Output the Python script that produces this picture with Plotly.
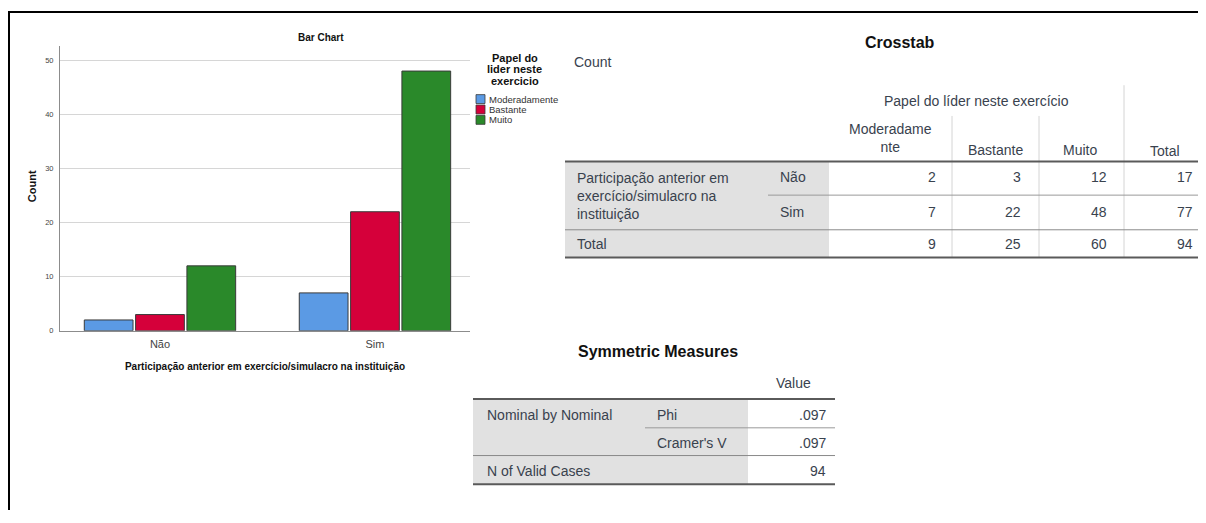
import plotly.graph_objects as go

# ---------------- data ----------------
categories = ["Não", "Sim"]
series_names = ["Moderadamente", "Bastante", "Muito"]
moderadamente = [2, 7]
bastante = [3, 22]
muito = [12, 48]
series_values = [moderadamente, bastante, muito]
bar_colors = ["#5b9ae4", "#d5003a", "#2a892a"]

row_var_label = ["Participação anterior em", "exercício/simulacro na", "instituição"]
col_var_label = "Papel do líder neste exercício"
col_headers = ["Moderadame<br>nte", "Bastante", "Muito", "Total"]
legend_title_lines = ["Papel do", "lider neste", "exercicio"]
x_title = "Participação anterior em exercício/simulacro na instituição"
y_title = "Count"

sym_labels = ["Phi", "Cramer's V"]
sym_values = [".097", ".097"]
n_valid = 94

# the page body has an 8px margin, so the figure is drawn smaller and offset
OFF = 8
W, H = 1206 - OFF, 523 - 2 * OFF
FONT = "Liberation Sans, Arial, sans-serif"
TXT = "#39424e"


def px(x):
    return (x - OFF) / W


def py(y):
    return 1 - (y - OFF) / H


fig = go.Figure()
for name, vals, col in zip(series_names, series_values, bar_colors):
    fig.add_trace(go.Bar(
        x=categories, y=vals, name=name,
        marker=dict(color=col, line=dict(color="#3a3a3a", width=1)),
        showlegend=False,
    ))

shapes = []
annotations = []


def text(x, y, s, size=14, color=TXT, xanchor="left", bold=False, angle=0):
    if bold:
        s = "<b>" + s + "</b>"
    annotations.append(dict(
        x=px(x), y=py(y), xref="paper", yref="paper", text=s, showarrow=False,
        xanchor=xanchor, yanchor="middle", textangle=angle,
        font=dict(family=FONT, size=size, color=color),
    ))


def rect(x0, y0, x1, y1, fill, line=None):
    shapes.append(dict(type="rect", xref="paper", yref="paper",
                       x0=px(x0), x1=px(x1), y0=py(y1), y1=py(y0),
                       fillcolor=fill, line=dict(width=0) if line is None else line,
                       layer="below"))


def hline(x0, x1, y, color, width=1):
    shapes.append(dict(type="line", xref="paper", yref="paper",
                       x0=px(x0), x1=px(x1), y0=py(y), y1=py(y),
                       line=dict(color=color, width=width)))


def vline(x, y0, y1, color, width=1):
    shapes.append(dict(type="line", xref="paper", yref="paper",
                       x0=px(x), x1=px(x), y0=py(y0), y1=py(y1),
                       line=dict(color=color, width=width)))


# outer border (top & left)
hline(8, 1206, 12, "#000000", 2)
vline(9, 12, OFF + H, "#000000", 2)

# ---------- bar chart texts ----------
text(321, 38, "Bar Chart", size=10, color="#111111", xanchor="center", bold=True)
text(32, 188, y_title, size=11, color="#111111", xanchor="center", bold=True, angle=-90)
for i, ln in enumerate(legend_title_lines):
    text(515, 58 + 12 * i, ln, size=11, color="#111111", xanchor="center", bold=True)
for i, (name, col) in enumerate(zip(series_names, bar_colors)):
    yc = 100 + 10.5 * i
    rect(476, yc - 4.5, 485, yc + 4.5, col, line=dict(color="#3a3a3a", width=0.8))
    text(487, yc, name, size=9.5, color="#333333")

# ---------- Crosstab ----------
text(900, 43, "Crosstab", size=16, color="#111111", xanchor="center", bold=True)
text(572, 63, "Count", size=14)

tl, tr = 565, 1206
top, r1, r2, bot = 163, 197, 232, 260
rect(tl, top, 829, bot, "#e1e1e1")
vline(1124, 86, bot, "#d4d4d4")
vline(952, 117, bot, "#d4d4d4")
vline(1039, 117, bot, "#d4d4d4")
hline(768, tr, r1, "#9a9a9a")
hline(tl, tr, r2, "#8a8a8a")
hline(tl, tr, top, "#5a5a5a", 2)
hline(tl, tr, bot, "#5a5a5a", 2)

text(976, 102, col_var_label, size=14, xanchor="center")
text(890, 139, col_headers[0], size=14, xanchor="center")
text(995, 151, col_headers[1], size=14, xanchor="center")
text(1080, 151, col_headers[2], size=14, xanchor="center")
text(1165, 152, col_headers[3], size=14, xanchor="center")

for i, ln in enumerate(row_var_label):
    text(575, 180 + 18 * i, ln, size=14)
row_y = [179, 214]
for cat, yy in zip(categories, row_y):
    text(778, yy, cat, size=14)
text(575, 246, "Total", size=14)

right_x = [938, 1023, 1109, 1195]
for ri, yy in enumerate(row_y):
    vals = [s[ri] for s in series_values]
    vals.append(sum(vals))
    for v, rx in zip(vals, right_x):
        text(rx, yy, str(v), size=14, xanchor="right")
col_tot = [sum(s) for s in series_values]
col_tot.append(sum(col_tot))
for v, rx in zip(col_tot, right_x):
    text(rx, 246, str(v), size=14, xanchor="right")

# ---------- Symmetric Measures ----------
text(658, 355, "Symmetric Measures", size=16, color="#111111", xanchor="center", bold=True)
text(793, 387, "Value", size=14, xanchor="center")
sl, sr = 473, 835
st, s1, s2, sb = 403, 432, 460, 489
rect(sl, st, 748, sb, "#e1e1e1")
hline(645, sr, s1, "#9a9a9a")
hline(sl, sr, s2, "#8a8a8a")
hline(sl, sr, st, "#5a5a5a", 2)
hline(sl, sr, sb, "#5a5a5a", 2)
text(485, 419, "Nominal by Nominal", size=14)
for lab, val, yy in zip(sym_labels, sym_values, [419, 447]):
    text(655, yy, lab, size=14)
    text(828, yy, val, size=14, xanchor="right")
text(485, 476, "N of Valid Cases", size=14)
text(828, 476, str(n_valid), size=14, xanchor="right")

fig.update_layout(
    width=W, height=H,
    margin=dict(l=0, r=0, t=0, b=0),
    paper_bgcolor="white", plot_bgcolor="white",
    barmode="group", bargap=0.284, bargroupgap=0.05,
    showlegend=False,
    shapes=shapes, annotations=annotations,
    font=dict(family=FONT),
    xaxis=dict(
        domain=[px(60), px(470)], range=[-0.465, 1.442],
        showline=True, linecolor="#8c8c8c", linewidth=1,
        ticks="", ticklabelstandoff=3,
        tickfont=dict(size=11, color="#444444", family=FONT),
        title=dict(text="<b>" + x_title + "</b>", font=dict(size=10, color="#111111", family=FONT), standoff=14),
        showgrid=False, zeroline=False,
    ),
    yaxis=dict(
        domain=[py(334), py(46)], range=[0, 52.7],
        showline=True, linecolor="#8c8c8c", linewidth=1,
        tickvals=[0, 10, 20, 30, 40, 50],
        ticks="", ticklabelstandoff=4,
        tickfont=dict(size=7.5, color="#444444", family=FONT),
        showgrid=True, gridcolor="#d6d6d6", gridwidth=1, zeroline=False,
    ),
)

fig.write_html("out.html")
